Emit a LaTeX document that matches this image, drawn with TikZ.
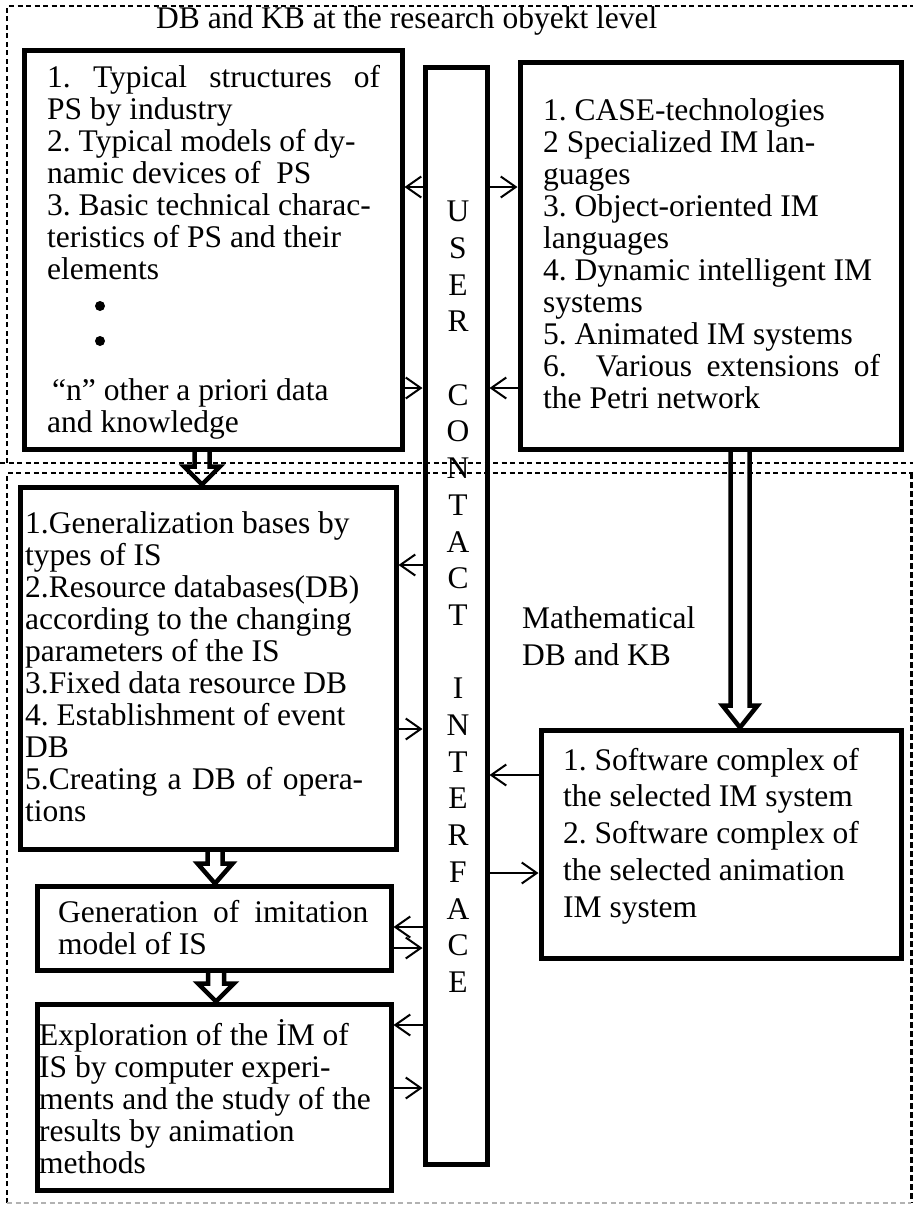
\documentclass[tikz,border=0pt]{standalone}
\usepackage{fontspec}
\setmainfont{Liberation Serif}
\usetikzlibrary{arrows.meta,calc}
\frenchspacing

% hollow block arrow pointing down: x, source node, target node,
% shaft half width, head half width, head length
\newcommand\hollowdown[6]{%
  \draw[hollow] let \p1=(#2.south), \p2=(#3.north) in
    (#1-#4,\y1) -- (#1-#4,\y2+#6) -- (#1-#5,\y2+#6) -- (#1,\y2)
    -- (#1+#5,\y2+#6) -- (#1+#4,\y2+#6) -- (#1+#4,\y1);}

\begin{document}
\begin{tikzpicture}[x=1pt,y=-1pt,
  box/.style={draw, line width=5pt, rectangle, inner sep=0pt},
  txt/.style={inner sep=0pt, anchor=north west, align=left,
              font=\fontsize{31.5}{32}\selectfont},
  dot/.style={circle, fill, inner sep=0pt, minimum size=10pt},
  arr/.style={line width=2pt, -{Straight Barb[length=15pt,width=21pt]}},
  hollow/.style={line width=4.5pt, line join=miter},
  frame/.style={line width=1.5pt, dash pattern=on 5pt off 3.5pt},
]
\useasboundingbox (0,0) rectangle (913,1205);

% dashed regions
\draw[frame] (0,463) -- (913,463);
\draw[frame] (7,463) -- (7,6) -- (913,6);
\draw[frame] (7,1203) -- (7,473) -- (913,473);
\draw[line width=3pt, dash pattern=on 6pt off 3pt] (911.5,473) -- (911.5,1203);
\draw[frame, gray!60] (7,1203) -- (911,1203);

\node[inner sep=0pt, anchor=base west, font=\fontsize{31.5}{32}\selectfont]
  (title) at (156,28) {DB and KB at the research obyekt level};

% boxes
\node[box, minimum width=378pt, minimum height=399pt] (A) at (213,249.5) {};
\node[box, minimum width=62pt, minimum height=1097pt] (ui) at (456,615.5) {};
\node[box, minimum width=381pt, minimum height=387pt] (B) at (710.5,255.5) {};
\node[box, minimum width=376pt, minimum height=362pt] (C) at (208,668) {};
\node[box, minimum width=354pt, minimum height=84pt] (D) at (214,928) {};
\node[box, minimum width=354pt, minimum height=186pt] (E) at (214,1097) {};
\node[box, minimum width=360pt, minimum height=228pt] (F) at (721,844) {};

% box texts
\node[txt] (tA) at (47,64.6) {\strut\makebox[333pt][s]{1. Typical structures of}\\
PS by industry\\
2. Typical models of dy-\\
namic devices of\ \ PS\\
3. Basic technical charac-\\
teristics of PS and their\\
elements};
\node[dot] (b1) at (100,306) {};
\node[dot] (b2) at (100,341) {};
\node[txt] (tA2) at (47,377.6) {\strut\hspace*{5pt}“n” other a priori data\\
and knowledge};

\node[txt] (tB) at (543,97.6) {\strut 1. CASE-technologies\\
2 Specialized IM lan-\\
guages\\
3. Object-oriented IM\\
languages\\
4. Dynamic intelligent IM\\
systems\\
5. Animated IM systems\\
\makebox[337pt][s]{6.\ \ Various extensions of}\\
the Petri network};

\node[txt] (tC) at (25,510.6) {\strut 1.Generalization bases by\\
types of IS\\
2.Resource databases(DB)\\
according to the changing\\
parameters of the IS\\
3.Fixed data resource DB\\
4. Establishment of event\\
DB\\
\makebox[338pt][s]{5.Creating a DB of opera-}\\
tions};

\node[txt, font=\fontsize{31.5}{31}\selectfont] (tD) at (58,899.9)
  {\strut\makebox[310pt][s]{Generation of imitation}\\ model of IS};

\node[txt] (tE) at (39,1019.6) {\strut Exploration of the İM of\\
IS by computer experi-\\
ments and the study of the\\
results by animation\\
methods};

\node[txt, font=\fontsize{31.5}{36.7}\selectfont] (tF) at (563,744.3)
  {\strut 1. Software complex of\\
the selected IM system\\
2. Software complex of\\
the selected animation\\
IM system};

\node[txt, font=\fontsize{31.5}{37}\selectfont] (math) at (522,602.1)
  {\strut Mathematical\\ DB and KB};

\node[inner sep=0pt, anchor=north, align=center, font=\fontsize{31.5}{36.7}\selectfont]
  (uitext) at (458,195.8) {\strut U\\S\\E\\R\\\mbox{}\\C\\O\\N\\T\\A\\C\\T\\\mbox{}\\
I\\N\\T\\E\\R\\F\\A\\C\\E};

% rows of the thin connectors
\coordinate (r1) at (0,187);
\coordinate (r2) at (0,388);
\coordinate (r3) at (0,565);
\coordinate (r4) at (0,729);
\coordinate (r5) at (0,775);
\coordinate (r6) at (0,873);
\coordinate (r7) at (0,927);
\coordinate (r8) at (0,948);
\coordinate (r9) at (0,1025);
\coordinate (r10) at (0,1088);

\draw[arr] (ui.west |- r1) -- (A.east |- r1);
\draw[arr] (ui.east |- r1) -- (B.west |- r1);
\draw[arr] (A.east |- r2) -- (ui.west |- r2);
\draw[arr] (B.west |- r2) -- (ui.east |- r2);
\draw[arr] (ui.west |- r3) -- (C.east |- r3);
\draw[arr] (C.east |- r4) -- (ui.west |- r4);
\draw[arr] (F.west |- r5) -- (ui.east |- r5);
\draw[arr] (ui.east |- r6) -- (F.west |- r6);
\draw[arr] (ui.west |- r7) -- (D.east |- r7);
\draw[arr] (D.east |- r8) -- (ui.west |- r8);
\draw[arr] (ui.west |- r9) -- (E.east |- r9);
\draw[arr] (E.east |- r10) -- (ui.west |- r10);

% block arrows between the stages
\hollowdown{202pt}{A}{C}{7.5pt}{18pt}{18pt}
\hollowdown{740pt}{B}{F}{9.5pt}{17.5pt}{22pt}
\hollowdown{215pt}{C}{D}{7.5pt}{17.5pt}{20pt}
\hollowdown{216pt}{D}{E}{8pt}{18pt}{18pt}

\end{tikzpicture}
\end{document}
